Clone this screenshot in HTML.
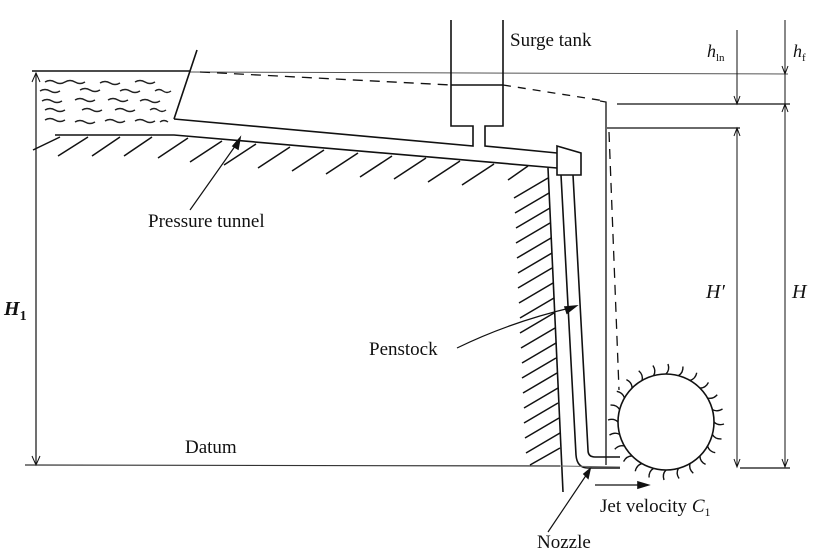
<!DOCTYPE html>
<html><head><meta charset="utf-8"><style>
html,body{margin:0;padding:0;background:#fff}
svg{display:block}
text{font-family:"Liberation Serif",serif;fill:#111}
</style></head><body>
<svg width="825" height="550" viewBox="0 0 825 550" xmlns="http://www.w3.org/2000/svg">
<rect width="825" height="550" fill="#fff"/>
<g stroke="#111" fill="none" stroke-width="1.6">
<!-- water surface -->
<line x1="32" y1="71" x2="190" y2="71"/>
<line x1="190" y1="72" x2="788" y2="74" stroke-width="1" stroke="#555"/>
<!-- H1 arrow -->
<line x1="36" y1="73" x2="36" y2="465" stroke-width="1.2"/>
<path d="M32 82 L36 73 L40 82 M32 456 L36 465 L40 456" stroke-width="1"/>
<!-- reservoir wall -->
<line x1="197" y1="50" x2="174" y2="119"/>
<!-- tunnel top -->
<polyline points="174,119 473,146 473,126 451,126 451,20"/>
<polyline points="503,20 503,126 485,126 485,146 557,153"/>
<line x1="451" y1="85" x2="503" y2="85"/>
<!-- ground / tunnel bottom -->
<polyline points="55,135 174,135 557,168"/>
<!-- valve box -->
<polygon points="557,146 581,153 581,175 557,175"/>
<!-- penstock -->
<path d="M561 175 L576 455 Q577 468 588 468 L620 468"/>
<path d="M573 175 L588 450 Q588 457 595 457 L620 457"/>
<!-- wall -->
<line x1="548" y1="168" x2="563" y2="492"/>
<!-- dashed HGL -->
<polyline points="200,72 451,85" stroke-dasharray="10,7" stroke-width="1.3"/>
<polyline points="503,85 605,101" stroke-dasharray="8,7" stroke-width="1.3"/>
<line x1="609" y1="132" x2="619" y2="390" stroke-dasharray="10,7" stroke-width="1.3"/>
<!-- solid verticals -->
<polyline points="600,101 606,102 606,465" stroke-width="1.3"/>
<line x1="617" y1="104" x2="790" y2="104" stroke-width="1.3"/>
<line x1="607" y1="128" x2="740" y2="128" stroke-width="1.3"/>
<line x1="737" y1="30" x2="737" y2="104" stroke-width="1"/>
<line x1="737" y1="128" x2="737" y2="467" stroke-width="1"/>
<line x1="785" y1="20" x2="785" y2="467" stroke-width="1"/>
<path d="M734 96 L737 104 L740 96 M734 136 L737 128 L740 136 M734 459 L737 467 L740 459 M782 66 L785 74 L788 66 M782 112 L785 104 L788 112 M782 459 L785 467 L788 459" stroke-width="1"/>
<line x1="740" y1="468" x2="790" y2="468" stroke-width="1.2"/>
<!-- datum -->
<line x1="25" y1="465" x2="560" y2="466" stroke-width="1.2" stroke="#333"/>
<line x1="560" y1="466" x2="620" y2="467" stroke-width="1" stroke="#666"/>
<!-- wheel -->
<circle cx="666" cy="422" r="48"/>
<!-- jet arrow -->
<line x1="595" y1="485" x2="645" y2="485" stroke-width="1.3"/>
<path d="M638 482 L648 485 L638 488 Z" fill="#111"/>
<!-- leader arrows -->
<line x1="190" y1="210" x2="238" y2="142" stroke-width="1.2"/>
<path d="M233 146 L240 138 L238 149 Z" fill="#111"/>
<path d="M457 348 Q510 322 574 307" stroke-width="1.2"/>
<path d="M565 307 L576 306 L567 313 Z" fill="#111"/>
<line x1="548" y1="532" x2="589" y2="471" stroke-width="1.2"/>
<path d="M584 474 L590 469 L588 478 Z" fill="#111"/>
</g>
<!-- waves -->
<g stroke="#222" fill="none" stroke-width="1.4" id="waves">
<path d="M45 82 q5 -3 10 0 t10 0 M65 82 q5-3 10 0 t10 0 M100 83 q5-3 10 0 t10 0 M135 82 q5-3 10 0 t10 0
M40 91 q5-3 10 0 t10 0 M80 90 q5-3 10 0 t10 0 M120 91 q5-3 10 0 t10 0 M155 91 q4-3 8 0 t8 0
M42 101 q5-3 10 0 t10 0 M75 100 q5-3 10 0 t10 0 M108 100 q5-3 10 0 t10 0 M140 101 q5-3 10 0 t10 0
M45 110 q5-3 10 0 t10 0 M82 110 q5-3 10 0 t10 0 M115 110 q5-3 10 0 t10 0 M150 110 q4-3 8 0 t8 0
M45 120 q5-3 10 0 t10 0 M75 122 q5-3 10 0 t10 0 M105 121 q5-3 10 0 t10 0 M135 121 q5-3 10 0 t10 0 M160 122 q4-3 8 0"/>
</g>
<!-- ground hatching -->
<g stroke="#111" stroke-width="1.5">
<line x1="60" y1="137" x2="33" y2="150"/>
<line x1="88" y1="137" x2="58" y2="156"/>
<line x1="120" y1="137" x2="92" y2="156"/>
<line x1="152" y1="137" x2="124" y2="156"/>
<line x1="188" y1="138" x2="158" y2="158"/>
<line x1="222" y1="141" x2="190" y2="162"/>
<line x1="256" y1="144" x2="224" y2="165"/>
<line x1="290" y1="147" x2="258" y2="168"/>
<line x1="324" y1="150" x2="292" y2="171"/>
<line x1="358" y1="153" x2="326" y2="174"/>
<line x1="392" y1="156" x2="360" y2="177"/>
<line x1="426" y1="158" x2="394" y2="179"/>
<line x1="460" y1="161" x2="428" y2="182"/>
<line x1="494" y1="164" x2="462" y2="185"/>
<line x1="528" y1="166" x2="508" y2="180"/>
</g>
<g stroke="#111" stroke-width="1.5">
<line x1="548" y1="178" x2="514" y2="198"/>
<line x1="549" y1="193" x2="515" y2="213"/>
<line x1="550" y1="208" x2="516" y2="228"/>
<line x1="550" y1="223" x2="516" y2="243"/>
<line x1="551" y1="238" x2="517" y2="258"/>
<line x1="552" y1="253" x2="518" y2="273"/>
<line x1="552" y1="268" x2="518" y2="288"/>
<line x1="553" y1="283" x2="519" y2="303"/>
<line x1="554" y1="298" x2="520" y2="318"/>
<line x1="554" y1="313" x2="520" y2="333"/>
<line x1="555" y1="328" x2="521" y2="348"/>
<line x1="556" y1="343" x2="522" y2="363"/>
<line x1="556" y1="358" x2="522" y2="378"/>
<line x1="557" y1="373" x2="523" y2="393"/>
<line x1="558" y1="388" x2="524" y2="408"/>
<line x1="558" y1="403" x2="524" y2="423"/>
<line x1="559" y1="418" x2="525" y2="438"/>
<line x1="560" y1="433" x2="526" y2="453"/>
<line x1="560" y1="448" x2="530" y2="465"/>
</g>
<!-- buckets -->
<g stroke="#111" fill="none" stroke-width="1.4" transform="translate(666,422)">
<path id="bk" d="M0 -48 q4 -4 2 -10" />
<use href="#bk" transform="rotate(15)"/><use href="#bk" transform="rotate(30)"/><use href="#bk" transform="rotate(45)"/>
<use href="#bk" transform="rotate(60)"/><use href="#bk" transform="rotate(75)"/><use href="#bk" transform="rotate(90)"/>
<use href="#bk" transform="rotate(105)"/><use href="#bk" transform="rotate(120)"/><use href="#bk" transform="rotate(135)"/>
<use href="#bk" transform="rotate(150)"/><use href="#bk" transform="rotate(165)"/><use href="#bk" transform="rotate(180)"/>
<use href="#bk" transform="rotate(195)"/><use href="#bk" transform="rotate(210)"/><use href="#bk" transform="rotate(225)"/>
<use href="#bk" transform="rotate(240)"/><use href="#bk" transform="rotate(255)"/><use href="#bk" transform="rotate(270)"/>
<use href="#bk" transform="rotate(285)"/><use href="#bk" transform="rotate(300)"/><use href="#bk" transform="rotate(315)"/>
<use href="#bk" transform="rotate(330)"/><use href="#bk" transform="rotate(345)"/>
</g>
<!-- labels -->
<text x="510" y="46" font-size="19">Surge tank</text>
<text x="148" y="227" font-size="19">Pressure tunnel</text>
<text x="369" y="355" font-size="19">Penstock</text>
<text x="185" y="453" font-size="19">Datum</text>
<text x="600" y="512" font-size="19">Jet velocity <tspan font-style="italic">C</tspan><tspan font-size="12" dy="4">1</tspan></text>
<text x="537" y="548" font-size="19">Nozzle</text>
<text x="4" y="315" font-size="20" font-style="italic" font-weight="bold">H<tspan font-size="14" dy="5" font-style="normal">1</tspan></text>
<text x="706" y="298" font-size="20" font-style="italic">H′</text>
<text x="792" y="298" font-size="20" font-style="italic">H</text>
<text x="707" y="57" font-size="18" font-style="italic">h<tspan font-size="11" dy="4" font-style="normal">ln</tspan></text>
<text x="793" y="57" font-size="18" font-style="italic">h<tspan font-size="11" dy="4" font-style="normal">f</tspan></text>
</svg>
</body></html>
